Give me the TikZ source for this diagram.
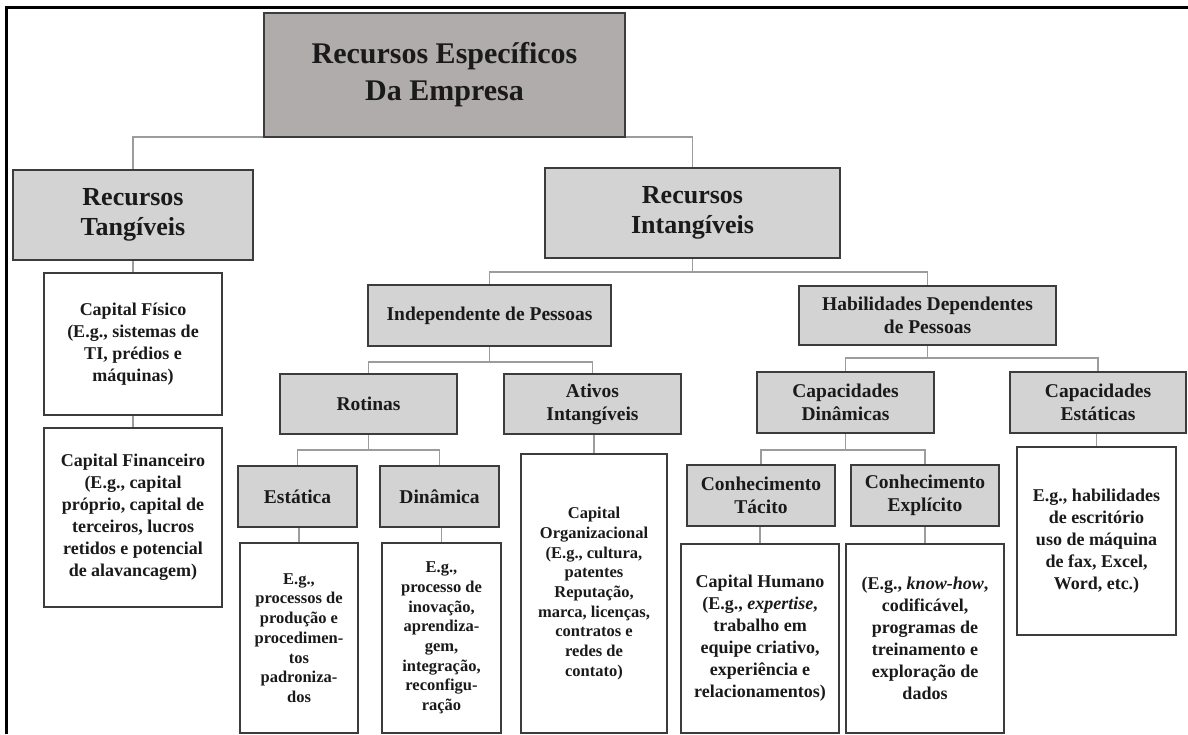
\documentclass[tikz,border=0pt]{standalone}
\usepackage{fontspec}
\setmainfont{Liberation Serif}
\usetikzlibrary{backgrounds}
\definecolor{darkfill}{HTML}{B0ACAB}
\definecolor{lightfill}{HTML}{D3D3D3}
\definecolor{edgecol}{HTML}{3C3C3C}
\definecolor{conncol}{HTML}{9C9C9C}
\definecolor{txtcol}{HTML}{1A1A1A}
\newcommand\bx[7]{%
  \node[#6, minimum width={#4-#2}, minimum height={#5-#3}] (#1) at ({(#2+#4)/2},{-(#3+#5)/2}) {#7};}
\newcommand\twokids[4]{%
  \coordinate (bus) at (0,-#4);
  \draw[conn] (#1.south) -- (#1.south |- bus);
  \draw[conn] (#2.north) -- (#2.north |- bus) -- (#3.north |- bus) -- (#3.north);}
\newcommand\onekid[2]{\draw[conn] (#2.north |- #1.south) -- (#2.north);}
\tikzset{
  box/.style={draw=edgecol, line width=1.8pt, inner sep=0pt, align=center, text=txtcol},
  topbox/.style={box, fill=darkfill, font=\bfseries\fontsize{30}{37}\selectfont},
  lvtwo/.style={box, fill=lightfill, font=\bfseries\fontsize{26}{30}\selectfont},
  hd/.style={box, fill=lightfill, font=\bfseries\fontsize{19.5}{23}\selectfont},
  exbox/.style={box, fill=white, font=\bfseries\fontsize{18}{22}\selectfont},
  exsmall/.style={box, fill=white, font=\bfseries\fontsize{16.5}{19.7}\selectfont},
  conn/.style={draw=conncol, line width=1.4pt}
}
\begin{document}
\begin{tikzpicture}[x=1pt,y=1pt]
\useasboundingbox (0,0) rectangle (1188,-734);
\draw[line width=2.5pt, black] (6.5,-734) -- (6.5,-7.3) -- (1188,-7.3);

\bx{top}{264}{13}{625}{137}{topbox}{Recursos Específicos\\Da Empresa}
\bx{tang}{13}{170}{253}{260}{lvtwo}{Recursos\\Tangíveis}
\bx{intang}{545}{168}{840}{258}{lvtwo}{Recursos\\Intangíveis}
\bx{cfis}{44}{273}{222}{415}{exbox}{Capital Físico\\(E.g., sistemas de\\TI, prédios e\\máquinas)}
\bx{cfin}{44}{428}{222}{607}{exbox}{Capital Financeiro\\(E.g., capital\\próprio, capital de\\terceiros, lucros\\retidos e potencial\\de alavancagem)}
\bx{indep}{368}{285}{611}{346}{hd}{Independente de Pessoas}
\bx{habil}{799}{286}{1056}{345}{hd}{Habilidades Dependentes\\de Pessoas}
\bx{rot}{280}{374}{457}{434}{hd}{Rotinas}
\bx{ativ}{504}{374}{681}{434}{hd}{Ativos\\Intangíveis}
\bx{capdin}{757}{372}{934}{433}{hd}{Capacidades\\Dinâmicas}
\bx{capest}{1010}{372}{1186}{433}{hd}{Capacidades\\Estáticas}
\bx{estat}{238}{466}{357}{527}{hd}{Estática}
\bx{dinam}{380}{466}{499}{527}{hd}{Dinâmica}
\bx{tacit}{687}{465}{835}{526}{hd}{Conhecimento\\Tácito}
\bx{explic}{851}{465}{999}{526}{hd}{Conhecimento\\Explícito}
\bx{exestat}{240}{543}{358}{733}{exsmall}{E.g.,\\processos de\\produção e\\procedimen-\\tos\\padroniza-\\dos}
\bx{exdinam}{382}{543}{501}{733}{exsmall}{E.g.,\\processo de\\inovação,\\aprendiza-\\gem,\\integração,\\reconfigu-\\ração}
\bx{corg}{521}{454}{667}{733}{exsmall}{Capital\\Organizacional\\(E.g., cultura,\\patentes\\Reputação,\\marca, licenças,\\contratos e\\redes de\\contato)}
\bx{extacit}{681}{544}{839}{733}{exbox}{Capital Humano\\(E.g., \textit{expertise},\\trabalho em\\equipe criativo,\\experiência e\\relacionamentos)}
\bx{exexpl}{846}{544}{1004}{733}{exbox}{(E.g., \textit{know-how},\\codificável,\\programas de\\treinamento e\\exploração de\\dados}
\bx{excest}{1017}{447}{1176}{635}{exbox}{E.g., habilidades\\de escritório\\uso de máquina\\de fax, Excel,\\Word, etc.)}

\begin{scope}[on background layer]
\fill[white] (0,0) rectangle (1188,-734);
\twokids{top}{tang}{intang}{137}
\twokids{intang}{indep}{habil}{272}
\twokids{indep}{rot}{ativ}{362}
\twokids{rot}{estat}{dinam}{450}
\twokids{habil}{capdin}{capest}{358}
\twokids{capdin}{tacit}{explic}{450}
\onekid{tang}{cfis}
\onekid{cfis}{cfin}
\onekid{ativ}{corg}
\onekid{capest}{excest}
\onekid{estat}{exestat}
\onekid{dinam}{exdinam}
\onekid{tacit}{extacit}
\onekid{explic}{exexpl}
\end{scope}
\end{tikzpicture}
\end{document}
